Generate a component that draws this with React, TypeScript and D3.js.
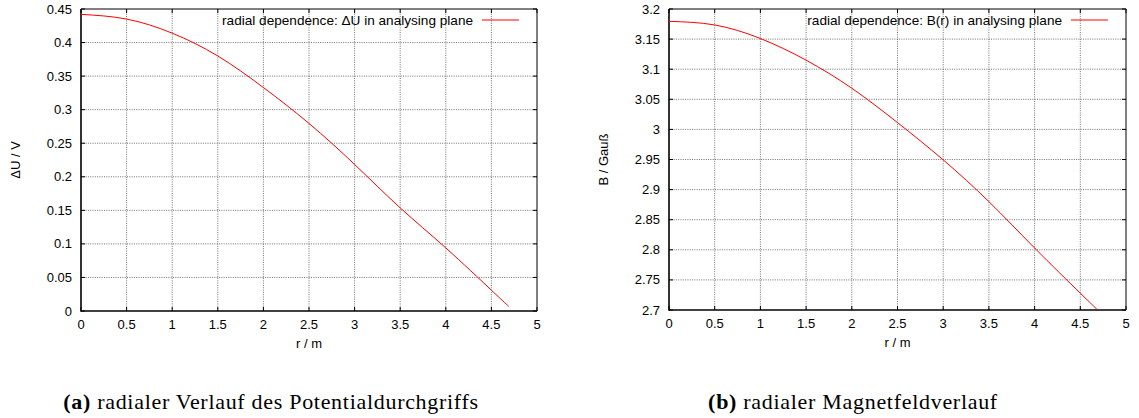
import React, { useEffect, useRef } from 'react';
import * as d3 from 'd3';

// radius samples (m)
const radius = [0, 0.5, 1, 1.5, 2, 2.5, 3, 3.5, 4, 4.5, 4.69];
// potential difference in analysing plane (V)
const deltaU = [0.442, 0.435, 0.414, 0.38, 0.333, 0.2795, 0.2184, 0.1537, 0.094, 0.031, 0.007];
// magnetic field in analysing plane (Gauss)
const fieldB = [3.1795, 3.1735, 3.151, 3.115, 3.0684, 3.0113, 2.9494, 2.88, 2.803, 2.728, 2.7];

const xTicks = [0, 0.5, 1, 1.5, 2, 2.5, 3, 3.5, 4, 4.5, 5];
const uTicks = [0, 0.05, 0.1, 0.15, 0.2, 0.25, 0.3, 0.35, 0.4, 0.45];
const bTicks = [2.7, 2.75, 2.8, 2.85, 2.9, 2.95, 3, 3.05, 3.1, 3.15, 3.2];

const panels = [
  {
    left: 81, right: 537, top: 9, bottom: 311,
    values: deltaU, yTicks: uTicks, yDomain: [0, 0.45],
    yLabel: 'ΔU / V', yLabelX: 20,
    legend: 'radial dependence: ΔU in analysing plane',
    caption: 'radialer Verlauf des Potentialdurchgriffs', tag: '(a)', captionX: 271,
  },
  {
    left: 669, right: 1126, top: 9, bottom: 310,
    values: fieldB, yTicks: bTicks, yDomain: [2.7, 3.2],
    yLabel: 'B / Gauß', yLabelX: 608,
    legend: 'radial dependence: B(r) in analysing plane',
    caption: 'radialer Magnetfeldverlauf', tag: '(b)', captionX: 853,
  },
];

const sans = 'Liberation Sans, Arial, sans-serif';
const serif = 'Liberation Serif, DejaVu Serif, serif';
const fs = 13;

export default function App() {
  const svgRef = useRef<SVGSVGElement>(null);

  useEffect(() => {
    if (!svgRef.current) return;
    const svg = d3.select(svgRef.current);
    svg.selectAll('*').remove();

    panels.forEach((p) => {
      const g = svg.append('g');
      const x = d3.scaleLinear().domain([0, 5]).range([p.left, p.right]);
      const y = d3.scaleLinear().domain(p.yDomain).range([p.bottom, p.top]);

      // grid
      g.append('g')
        .selectAll('line')
        .data(xTicks.slice(1, -1))
        .join('line')
        .attr('x1', (d) => x(d)).attr('x2', (d) => x(d))
        .attr('y1', p.top).attr('y2', p.bottom)
        .attr('stroke', '#333').attr('stroke-width', 0.7)
        .attr('stroke-dasharray', '1,1.3');
      g.append('g')
        .selectAll('line')
        .data(p.yTicks.slice(1, -1))
        .join('line')
        .attr('y1', (d) => y(d)).attr('y2', (d) => y(d))
        .attr('x1', p.left).attr('x2', p.right)
        .attr('stroke', '#333').attr('stroke-width', 0.7)
        .attr('stroke-dasharray', '1,1.3');

      // inward ticks on all four sides
      const tk = 4;
      const ticks = g.append('g').attr('stroke', '#000').attr('stroke-width', 1);
      xTicks.forEach((t) => {
        ticks.append('line').attr('x1', x(t)).attr('x2', x(t)).attr('y1', p.bottom).attr('y2', p.bottom - tk);
        ticks.append('line').attr('x1', x(t)).attr('x2', x(t)).attr('y1', p.top).attr('y2', p.top + tk);
      });
      p.yTicks.forEach((t) => {
        ticks.append('line').attr('y1', y(t)).attr('y2', y(t)).attr('x1', p.left).attr('x2', p.left + tk);
        ticks.append('line').attr('y1', y(t)).attr('y2', y(t)).attr('x1', p.right).attr('x2', p.right - tk);
      });

      // border
      g.append('line').attr('x1', p.left).attr('x2', p.right).attr('y1', p.top).attr('y2', p.top)
        .attr('stroke', '#000').attr('stroke-width', 1);
      g.append('line').attr('x1', p.right).attr('x2', p.right).attr('y1', p.top).attr('y2', p.bottom)
        .attr('stroke', '#000').attr('stroke-width', 1);
      g.append('line').attr('x1', p.left).attr('x2', p.left).attr('y1', p.top).attr('y2', p.bottom + 0.75)
        .attr('stroke', '#000').attr('stroke-width', 1.6);
      g.append('line').attr('x1', p.left).attr('x2', p.right).attr('y1', p.bottom).attr('y2', p.bottom)
        .attr('stroke', '#000').attr('stroke-width', 1.6);

      // tick labels
      g.append('g')
        .selectAll('text')
        .data(xTicks)
        .join('text')
        .attr('x', (d) => x(d)).attr('y', p.bottom + 18)
        .attr('text-anchor', 'middle')
        .attr('font-family', sans).attr('font-size', fs)
        .text((d) => String(d));
      g.append('g')
        .selectAll('text')
        .data(p.yTicks)
        .join('text')
        .attr('x', p.left - 9).attr('y', (d) => y(d) + 4.5)
        .attr('text-anchor', 'end')
        .attr('font-family', sans).attr('font-size', fs)
        .text((d) => String(d));

      // axis labels
      g.append('text')
        .attr('x', (p.left + p.right) / 2).attr('y', p.bottom + 37)
        .attr('text-anchor', 'middle')
        .attr('font-family', sans).attr('font-size', fs)
        .text('r / m');
      g.append('text')
        .attr('transform', `translate(${p.yLabelX},${(p.top + p.bottom) / 2}) rotate(-90)`)
        .attr('text-anchor', 'middle')
        .attr('font-family', sans).attr('font-size', fs)
        .text(p.yLabel);

      // curve
      const line = d3.line<number>()
        .x((_, i) => x(radius[i]))
        .y((d) => y(d))
        .curve(d3.curveNatural);
      g.append('path')
        .datum(p.values)
        .attr('d', line)
        .attr('fill', 'none')
        .attr('stroke', '#ff0000')
        .attr('stroke-width', 1);

      // legend
      g.append('text')
        .attr('x', p.right - 64).attr('y', p.top + 15.5)
        .attr('text-anchor', 'end')
        .attr('font-family', sans).attr('font-size', 13.6)
        .text(p.legend);
      g.append('line')
        .attr('x1', p.right - 55).attr('x2', p.right - 18)
        .attr('y1', p.top + 11).attr('y2', p.top + 11)
        .attr('stroke', '#ff0000').attr('stroke-width', 1);

      // caption
      const cap = g.append('text')
        .attr('x', p.captionX).attr('y', 409)
        .attr('text-anchor', 'middle')
        .attr('font-family', serif).attr('font-size', 22)
        .attr('letter-spacing', 0.7);
      cap.append('tspan').attr('font-weight', 'bold').text(p.tag);
      cap.append('tspan').text(' ' + p.caption);
    });
  }, []);

  return (
    <svg
      ref={svgRef}
      width={1139}
      height={418}
      style={{ position: 'absolute', left: 0, top: 0, background: '#fff' }}
    />
  );
}
